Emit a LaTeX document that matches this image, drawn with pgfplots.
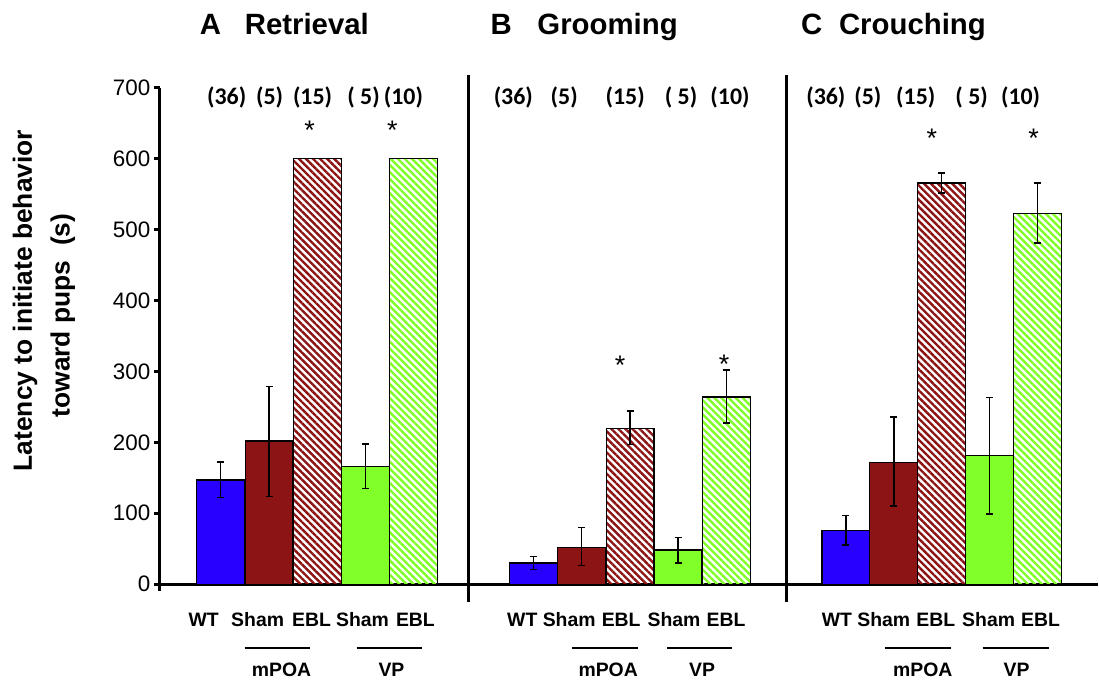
\documentclass[border=0pt]{standalone}
\usepackage{fontspec}
\setmainfont{Liberation Sans}
\newfontfamily\carlito{Carlito}
\usepackage{pgfplots}
\pgfplotsset{compat=1.18}
\usetikzlibrary{patterns.meta}

\definecolor{wtblue}{RGB}{40,0,255}
\definecolor{shamred}{RGB}{140,20,20}
\definecolor{shamgreen}{RGB}{128,255,40}

\tikzset{
  lbl/.style={inner sep=0pt, anchor=base},
  cnt/.style={lbl, font=\carlito\fontsize{24}{24}\selectfont\bfseries},
  star/.style={lbl, font=\fontsize{27}{27}\selectfont},
  cat/.style={lbl, font=\fontsize{19.5}{20}\selectfont\bfseries},
  ttl/.style={inner sep=0pt, anchor=base west, font=\fontsize{29.5}{30}\selectfont\bfseries},
}

\begin{document}
\begin{tikzpicture}
% x axis is in picture pixels (1bp each), y axis in seconds
\begin{axis}[
  x=1bp, y=0.71bp,
  xmin=160, xmax=1099, ymin=0, ymax=700,
  axis lines*=left,
  axis line style={line width=3bp},
  xtick=\empty,
  ytick={0,100,...,700},
  tick align=outside,
  major tick length=6bp,
  tick style={line width=3bp, black},
  yticklabel style={font=\fontsize{22.5}{24}\selectfont},
  /pgf/number format/assume math mode=true,
  clip=false,
  bar/.style={ybar, bar width=48, bar shift=0pt, draw=black, line width=1.3bp},
  bb/.style={bar,
    error bars/y dir=both, error bars/y explicit,
    error bars/error bar style={line width=1.5bp, black},
    error bars/error mark options={rotate=90, line width=1.5bp, mark size=3.5bp, black}},
  hatch/.style={pattern={Lines[angle=-45, distance=5bp, line width=2.4bp]}},
]
% WT
\addplot[bb, fill=wtblue] coordinates {
  (221,147)   += (0,25) -= (0,25)
  (534,30)    += (0,9)  -= (0,9)
  (847,76)    += (0,21) -= (0,21)
};
% Sham mPOA
\addplot[bb, fill=shamred] coordinates {
  (269.5,202) += (0,77) -= (0,78)
  (582.5,52)  += (0,28) -= (0,26)
  (895,172)   += (0,64) -= (0,62)
};
% EBL mPOA (retrieval at ceiling, no error bar)
\addplot[bar, hatch, pattern color=shamred] coordinates {(318,600)};
\addplot[bb, hatch, pattern color=shamred] coordinates {
  (631,220)   += (0,24) -= (0,23)
  (943,566)   += (0,14) -= (0,14)
};
% Sham VP
\addplot[bb, fill=shamgreen] coordinates {
  (366,166)   += (0,32) -= (0,31)
  (679,48)    += (0,18) -= (0,18)
  (991,181)   += (0,82) -= (0,82)
};
% EBL VP
\addplot[bar, hatch, pattern color=shamgreen] coordinates {(414,600)};
\addplot[bb, hatch, pattern color=shamgreen] coordinates {
  (727.5,264) += (0,38) -= (0,37)
  (1039,523)  += (0,43) -= (0,42)
};

% panel dividers and stub below zero
\draw[line width=3bp] (axis cs:469,-25) -- (axis cs:469,718);
\draw[line width=3bp] (axis cs:788,-25) -- (axis cs:788,718);
\draw[line width=3bp] (axis cs:160,0) -- (axis cs:160,-10);

% panel titles
\node[ttl] at (axis cs:200,774.6) {A};
\node[ttl] at (axis cs:245,774.6) {Retrieval};
\node[ttl] at (axis cs:491,774.6) {B};
\node[ttl] at (axis cs:538,774.6) {Grooming};
\node[ttl] at (axis cs:802,774.6) {C};
\node[ttl] at (axis cs:840,774.6) {Crouching};

% group sizes
\node[cnt] at (axis cs:227,676.1) {(36)};
\node[cnt] at (axis cs:270,676.1) {(5)};
\node[cnt] at (axis cs:313,676.1) {(15)};
\node[cnt] at (axis cs:364,676.1) {( 5)};
\node[cnt] at (axis cs:404,676.1) {(10)};
\node[cnt] at (axis cs:514,676.1) {(36)};
\node[cnt] at (axis cs:565,676.1) {(5)};
\node[cnt] at (axis cs:626,676.1) {(15)};
\node[cnt] at (axis cs:682,676.1) {( 5)};
\node[cnt] at (axis cs:731,676.1) {(10)};
\node[cnt] at (axis cs:827,676.1) {(36)};
\node[cnt] at (axis cs:869,676.1) {(5)};
\node[cnt] at (axis cs:917,676.1) {(15)};
\node[cnt] at (axis cs:973,676.1) {( 5)};
\node[cnt] at (axis cs:1022,676.1) {(10)};

% significance stars
\node[star] at (axis cs:310,626.8) {*};
\node[star] at (axis cs:393,626.8) {*};
\node[star] at (axis cs:621,295.8) {*};
\node[star] at (axis cs:725,297.2) {*};
\node[star] at (axis cs:933,615.5) {*};
\node[star] at (axis cs:1035,615.5) {*};

% category labels
\node[cat] at (axis cs:204,-59.2) {WT};
\node[cat] at (axis cs:258,-59.2) {Sham};
\node[cat] at (axis cs:312,-59.2) {EBL};
\node[cat] at (axis cs:363,-59.2) {Sham};
\node[cat] at (axis cs:416,-59.2) {EBL};
\node[cat] at (axis cs:523,-59.2) {WT};
\node[cat] at (axis cs:570,-59.2) {Sham};
\node[cat] at (axis cs:622,-59.2) {EBL};
\node[cat] at (axis cs:675,-59.2) {Sham};
\node[cat] at (axis cs:727,-59.2) {EBL};
\node[cat] at (axis cs:838,-59.2) {WT};
\node[cat] at (axis cs:885,-59.2) {Sham};
\node[cat] at (axis cs:937,-59.2) {EBL};
\node[cat] at (axis cs:990,-59.2) {Sham};
\node[cat] at (axis cs:1042,-59.2) {EBL};
\node[cat] at (axis cs:282,-129.6) {mPOA};
\node[cat] at (axis cs:392,-129.6) {VP};
\node[cat] at (axis cs:609,-129.6) {mPOA};
\node[cat] at (axis cs:703,-129.6) {VP};
\node[cat] at (axis cs:924,-129.6) {mPOA};
\node[cat] at (axis cs:1018,-129.6) {VP};
\draw[line width=1.5bp] (axis cs:245,-90.1) -- (axis cs:310,-90.1);
\draw[line width=1.5bp] (axis cs:357,-90.1) -- (axis cs:423,-90.1);
\draw[line width=1.5bp] (axis cs:573,-90.1) -- (axis cs:639,-90.1);
\draw[line width=1.5bp] (axis cs:668,-90.1) -- (axis cs:733,-90.1);
\draw[line width=1.5bp] (axis cs:886,-90.1) -- (axis cs:952,-90.1);
\draw[line width=1.5bp] (axis cs:984,-90.1) -- (axis cs:1050,-90.1);

% y label
\node[inner sep=0pt, rotate=90, font=\fontsize{26.5}{28}\selectfont\bfseries]
  at (axis cs:25,400) {Latency to initiate behavior};
\node[inner sep=0pt, rotate=90, font=\fontsize{26.5}{28}\selectfont\bfseries]
  at (axis cs:63,378.9) {toward pups~~(s)};

% page frame
\path (axis cs:0,-133.8) rectangle (axis cs:1099,823.9);
\end{axis}
\end{tikzpicture}
\end{document}
